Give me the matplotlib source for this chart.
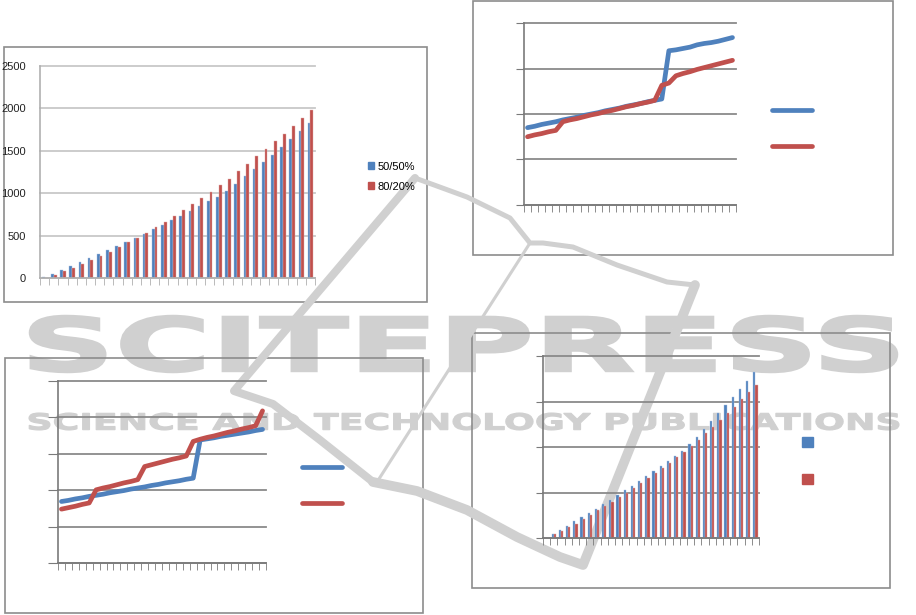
import numpy as np
import matplotlib
matplotlib.use("Agg")
import matplotlib.pyplot as plt
from matplotlib.patches import Rectangle, PathPatch, Patch
from matplotlib.lines import Line2D
from matplotlib.textpath import TextPath
from matplotlib.font_manager import FontProperties
from matplotlib.transforms import Affine2D

plt.rcParams['font.family'] = ['Liberation Sans', 'DejaVu Sans']

# ---- data ----
n_cat = 30
series_names = ["50/50%", "80/20%"]

bars_top_blue = [10, 47, 90, 137, 184, 231, 283, 326, 373, 424,
                 471, 522, 577, 624, 679, 734, 789, 844, 907, 958,
                 1024, 1107, 1197, 1287, 1370, 1456, 1543, 1637, 1731, 1825]
bars_top_red = [0, 39, 86, 122, 165, 212, 255, 306, 361, 420,
                471, 530, 597, 663, 730, 797, 871, 946, 1013, 1095,
                1170, 1260, 1346, 1436, 1523, 1613, 1703, 1794, 1892, 1982]
top_yticks = [0, 500, 1000, 1500, 2000, 2500]

line_tr_blue = [1.70, 1.73, 1.77, 1.80, 1.83, 1.87, 1.90, 1.93, 1.97, 2.00,
                2.03, 2.07, 2.10, 2.13, 2.17, 2.20, 2.23, 2.27, 2.30, 2.33,
                3.39, 3.41, 3.44, 3.47, 3.52, 3.55, 3.57, 3.60, 3.64, 3.68]
line_tr_red = [1.50, 1.54, 1.57, 1.61, 1.64, 1.83, 1.87, 1.90, 1.94, 1.98,
               2.01, 2.05, 2.08, 2.12, 2.16, 2.19, 2.23, 2.26, 2.30, 2.63,
               2.68, 2.84, 2.89, 2.93, 2.98, 3.02, 3.06, 3.10, 3.14, 3.18]

line_bl_blue = [1.69, 1.72, 1.76, 1.79, 1.83, 1.86, 1.89, 1.93, 1.96, 1.99,
                2.03, 2.06, 2.09, 2.13, 2.16, 2.20, 2.23, 2.26, 2.30, 2.33,
                3.38, 3.41, 3.44, 3.48, 3.51, 3.54, 3.57, 3.60, 3.64, 3.67]
line_bl_red = [1.48, 1.52, 1.56, 1.61, 1.65, 2.01, 2.06, 2.10, 2.15, 2.20,
               2.24, 2.29, 2.65, 2.70, 2.75, 2.80, 2.85, 2.89, 2.94, 3.34,
               3.40, 3.45, 3.49, 3.54, 3.59, 3.63, 3.68, 3.72, 3.77, 4.18]

bars_br_blue = [0.0, 0.095, 0.18, 0.27, 0.365, 0.46, 0.555, 0.64, 0.745, 0.84,
                0.94, 1.05, 1.15, 1.255, 1.365, 1.475, 1.585, 1.69, 1.80, 1.92,
                2.06, 2.22, 2.39, 2.57, 2.74, 2.92, 3.09, 3.27, 3.46, 3.64]
bars_br_red = [0.0, 0.088, 0.16, 0.25, 0.31, 0.41, 0.51, 0.61, 0.70, 0.80,
               0.90, 1.00, 1.10, 1.21, 1.32, 1.43, 1.54, 1.65, 1.77, 1.88,
               2.03, 2.15, 2.30, 2.45, 2.59, 2.74, 2.89, 3.05, 3.20, 3.36]

BLUE = "#4f81bd"
RED = "#c0504d"
W, H = 916, 615


def px_rect(l, t, r, b):
    return [l / W, 1 - b / H, (r - l) / W, (b - t) / H]


fig = plt.figure(figsize=(W / 100, H / 100), dpi=100)

# background layer in pixel coordinates: watermark + chart frames
bg = fig.add_axes([0, 0, 1, 1], zorder=0)
bg.set_xlim(0, W)
bg.set_ylim(H, 0)
bg.axis("off")

WM = "#d0d0d0"


def fit_text(txt, x0, y0, x1, y1, edge):
    tp = TextPath((0, 0), txt, size=100,
                  prop=FontProperties(family="DejaVu Sans", weight="bold"))
    ext = tp.get_extents()
    sx = (x1 - x0) / ext.width
    sy = (y1 - y0) / ext.height
    tr = Affine2D().translate(-ext.x0, -ext.y0).scale(sx, -sy).translate(x0, y1)
    bg.add_patch(PathPatch(tr.transform_path(tp), facecolor=WM, edgecolor=WM,
                           lw=edge, joinstyle="miter"))


# logo swoosh behind the charts
diag = [(415, 178), (234, 391), (273, 404), (320, 440), (373, 482)]
bottom = [(373, 482), (417, 491), (467, 510), (517, 537), (560, 557), (583, 565), (695, 285)]
upper = [(415, 178), (467, 197), (510, 218), (530, 243), (543, 243), (573, 247),
         (617, 265), (667, 282), (695, 285)]
for pts, w in [(diag, 5.8), (bottom, 7), (upper, 3.6)]:
    bg.plot(*zip(*pts), color=WM, lw=w, solid_capstyle="round", solid_joinstyle="round")
bg.plot([530, 377], [243, 482], color=WM, lw=2.2)

fit_text("SCITEPRESS", 30, 316, 897, 372, 1.8)
fit_text("SCIENCE AND TECHNOLOGY PUBLICATIONS", 29, 413, 899, 430, 0.8)

for (l, t, r, b) in [(4, 47, 427, 302), (473, 1, 893, 255),
                     (5, 358, 423, 613), (472, 333, 890, 588)]:
    bg.add_patch(Rectangle((l, t), r - l, b - t, fill=False,
                           edgecolor="#8c8c8c", lw=1.2))


def style_axes(ax, ymax, step, grid_color, spine_color, ytick_len):
    ax.set_facecolor("none")
    ax.set_xlim(0, n_cat)
    ax.set_ylim(0, ymax)
    ax.set_yticks(np.arange(0, ymax + step / 2, step))
    ax.set_xticks([])
    ax.set_xticks(np.arange(0, n_cat + 1), minor=True)
    ax.tick_params(axis="x", which="minor", length=5, color=spine_color, direction="out")
    ax.tick_params(axis="y", length=ytick_len, color=spine_color, labelsize=8,
                   labelcolor="#222222")
    ax.yaxis.grid(True, color=grid_color, lw=1.3)
    ax.set_axisbelow(True)
    for s in ["top", "right"]:
        ax.spines[s].set_visible(False)
    for s in ["left", "bottom"]:
        ax.spines[s].set_color(spine_color)
        ax.spines[s].set_linewidth(1.2)
    for g in ax.get_ygridlines():
        g.set_clip_on(False)


x = np.arange(n_cat) + 0.5
bw = 0.3

# ---- top-left: bar chart with labels ----
ax1 = fig.add_axes(px_rect(40, 66, 315, 278), zorder=1)
style_axes(ax1, 2500, 500, "#c8c8c8", "#b0b0b0", 0)
ax1.bar(x - bw / 2, bars_top_blue, bw, color=BLUE, edgecolor="#a9c0e0", lw=0.3)
ax1.bar(x + bw / 2, bars_top_red, bw, color=RED, edgecolor="#e0a9a8", lw=0.3)
ax1.set_yticks(top_yticks)
ax1.set_yticklabels([str(v) for v in top_yticks])
ax1.tick_params(axis="y", pad=10)
ax1.legend([Patch(color=BLUE), Patch(color=RED)], series_names,
           loc="upper left", bbox_to_anchor=(362 / W, 1 - 156 / H),
           bbox_transform=fig.transFigure, frameon=False, fontsize=8,
           handlelength=0.6, handleheight=0.6, handletextpad=0.3,
           labelspacing=0.9, borderpad=0)


def line_legend(ax, left, top):
    ax.legend([Line2D([], [], color=BLUE, lw=3.4, solid_capstyle="round"),
               Line2D([], [], color=RED, lw=3.4, solid_capstyle="round")], ["", ""],
              loc="upper left", bbox_to_anchor=(left / W, 1 - top / H),
              bbox_transform=fig.transFigure, frameon=False, fontsize=8,
              handlelength=3.6, handletextpad=0, labelspacing=2.4, borderpad=0)


# ---- top-right: lines ----
ax2 = fig.add_axes(px_rect(524, 23, 736, 205), zorder=1)
style_axes(ax2, 4, 1, "#8a8a8a", "#7a7a7a", 6)
ax2.set_yticklabels([])
ax2.plot(x, line_tr_blue, color=BLUE, lw=3.4, solid_capstyle="round")
ax2.plot(x, line_tr_red, color=RED, lw=3.4, solid_capstyle="round")
line_legend(ax2, 766, 100)

# ---- bottom-left: lines ----
ax3 = fig.add_axes(px_rect(58, 381, 266, 563), zorder=1)
style_axes(ax3, 5, 1, "#8a8a8a", "#7a7a7a", 7)
ax3.set_yticklabels([])
ax3.plot(x, line_bl_blue, color=BLUE, lw=3.4, solid_capstyle="round")
ax3.plot(x, line_bl_red, color=RED, lw=3.4, solid_capstyle="round")
line_legend(ax3, 296, 457)

# ---- bottom-right: bars ----
ax4 = fig.add_axes(px_rect(543, 356, 759, 538), zorder=1)
style_axes(ax4, 4, 1, "#8a8a8a", "#7a7a7a", 5)
ax4.set_yticklabels([])
ax4.bar(x - bw / 2, bars_br_blue, bw, color=BLUE, edgecolor="#a9c0e0", lw=0.3)
ax4.bar(x + bw / 2, bars_br_red, bw, color=RED, edgecolor="#e0a9a8", lw=0.3)
ax4.legend([Patch(color=BLUE), Patch(color=RED)], ["", ""],
           loc="upper left", bbox_to_anchor=(796 / W, 1 - 431 / H),
           bbox_transform=fig.transFigure, frameon=False, fontsize=8,
           handlelength=1.0, handleheight=1.0, handletextpad=0,
           labelspacing=2.4, borderpad=0)

fig.savefig("out.png", dpi=100)
